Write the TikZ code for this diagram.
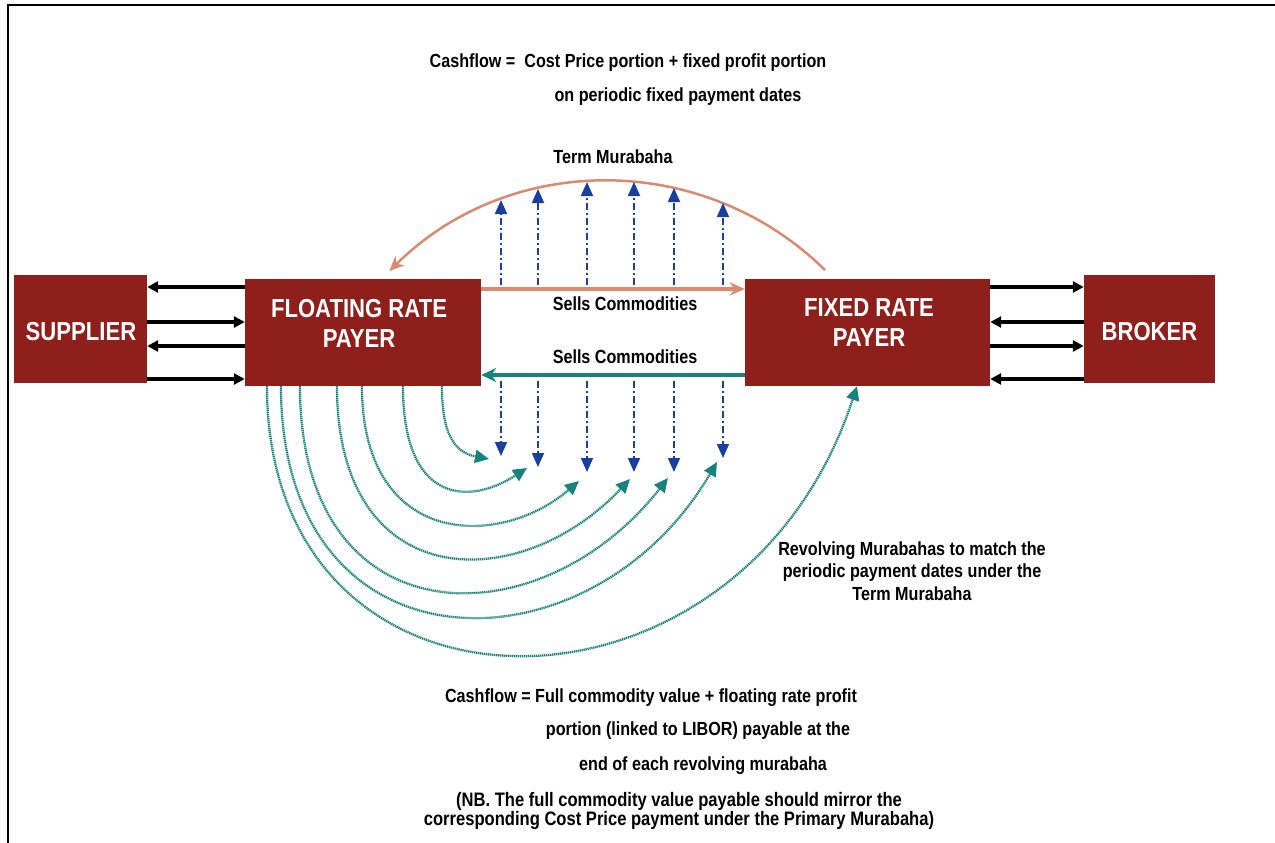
\documentclass[tikz,border=0pt]{standalone}
\usepackage{fontspec}
\setmainfont{Liberation Sans}[FakeStretch=0.85]
\usetikzlibrary{arrows.meta}
\definecolor{boxred}{HTML}{8E1F1A}
\definecolor{salmon}{HTML}{D98A70}
\definecolor{tealc}{HTML}{16837E}
\definecolor{navyc}{HTML}{1B3FA0}

\begin{document}
\begin{tikzpicture}
[x=1pt,y=-1pt,>={Triangle[length=11pt,width=11pt]},
 box/.style={rectangle,fill=boxred,draw=none,inner sep=0pt},
 boxtxt/.style={text=white,font=\fontsize{26}{30}\selectfont\bfseries,align=center,inner sep=0pt},
 txt/.style={font=\fontsize{19}{22}\selectfont\bfseries,align=center,inner sep=0pt},
 blk/.style={line width=3.5pt},
 upflow/.style={navyc,line width=1.8pt,dash pattern=on 7pt off 3pt on 2pt off 3pt,
   -{Triangle[length=14pt,width=12pt]}},
 revolve/.style={tealc,line width=2.3pt,dash pattern=on 1.3pt off 0.7pt,
   -{Triangle[length=14pt,width=13pt]}}]
  \useasboundingbox (0,0) rectangle (1275,843);
  \draw[line width=2.2pt] (8,843) -- (8,5) -- (1275,5);

  \node[box,minimum width=133pt,minimum height=108pt] (sup) at (80.5,329) {};
  \node[box,minimum width=236pt,minimum height=107pt] (flt) at (363,332.5) {};
  \node[box,minimum width=245pt,minimum height=107pt] (fix) at (867.5,332.5) {};
  \node[box,minimum width=131pt,minimum height=108pt] (brk) at (1149.5,329) {};
  \node[boxtxt] (supt) at (81,332) {SUPPLIER};
  \node[boxtxt] (fltt) at (359,323) {FLOATING RATE\\PAYER};
  \node[boxtxt] (fixt) at (869,323) {FIXED RATE\\PAYER};
  \node[boxtxt] (brkt) at (1149.5,332) {BROKER};

  \foreach \yy/\dir in {287/<-, 322/->, 346/<-, 379/->}
    \draw[blk,\dir] (sup.east |- 0,\yy) -- (flt.west |- 0,\yy);
  \foreach \yy/\dir in {287/->, 322/<-, 346/->, 379/<-}
    \draw[blk,\dir] (fix.east |- 0,\yy) -- (brk.west |- 0,\yy);

  \draw[salmon,line width=3.5pt,-{Stealth[length=15pt,width=13pt]}] (flt.east |- 0,289) -- (fix.west |- 0,289);
  \draw[tealc,line width=4pt,-{Stealth[length=15pt,width=14pt]}] (fix.west |- 0,375) -- (flt.east |- 0,375);
  \node[txt] (sell1) at (625,304) {Sells Commodities};
  \node[txt] (sell2) at (625,357) {Sells Commodities};

  % term murabaha
  \coordinate (arcS) at (825,270);
  \draw[salmon,line width=2.5pt,-{Stealth[length=15pt,width=13pt]}] (arcS) arc[start angle=45.5,end angle=134.8,radius=310pt];

  \foreach \i/\xx/\yt/\yb in {1/501/200/456, 2/538/189/467, 3/587/182/472, 4/634/182/472, 5/674/188/472, 6/723/203/458} {
    \coordinate (up\i) at (\xx,285);
    \coordinate (top\i) at (\xx,\yt);
    \coordinate (dn\i) at (\xx,381);
    \coordinate (bot\i) at (\xx,\yb);
    \draw[upflow] (up\i) -- (top\i);
    \draw[upflow] (dn\i) -- (bot\i);
  }

  % revolving murabahas
  \draw[revolve] (flt.south -| 442,0) .. controls (442,430) and (452,452) .. (489,459);
  \foreach \xs/\c/\xc/\xe/\ye in {403/505/470/527/468, 362/549/500/579/481,
      337/596/520/630/479, 300/642/540/668/478, 281/679/590/717/462}
    \draw[revolve] (flt.south -| \xs,0) .. controls (\xs,\c) and (\xc,\c) .. (\xe,\ye);
  \draw[revolve] (flt.south -| 267,0) .. controls (267,744) and (740,744) .. (fix.south -| 857,0);

  \node[txt] (cf1) at (628,63) {Cashflow =\ \ Cost Price portion + fixed profit portion};
  \node[txt] (cf2) at (678,97) {on periodic fixed payment dates};
  \node[txt] (term) at (613,157) {Term Murabaha};
  \node[txt,font=\fontsize{19}{22.5}\selectfont\bfseries] (rev) at (912,571) {Revolving Murabahas to match the\\periodic payment dates under the\\Term Murabaha};
  \node[txt] (cf3) at (651,698) {Cashflow = Full commodity value + floating rate profit};
  \node[txt] (cf4) at (698,731) {portion (linked to LIBOR) payable at the};
  \node[txt] (cf5) at (703,766) {end of each revolving murabaha};
  \node[txt,font=\fontsize{19.5}{18.5}\selectfont\bfseries] (nb) at (679,811) {(NB. The full commodity value payable should mirror the\\corresponding Cost Price payment under the Primary Murabaha)};
\end{tikzpicture}
\end{document}
